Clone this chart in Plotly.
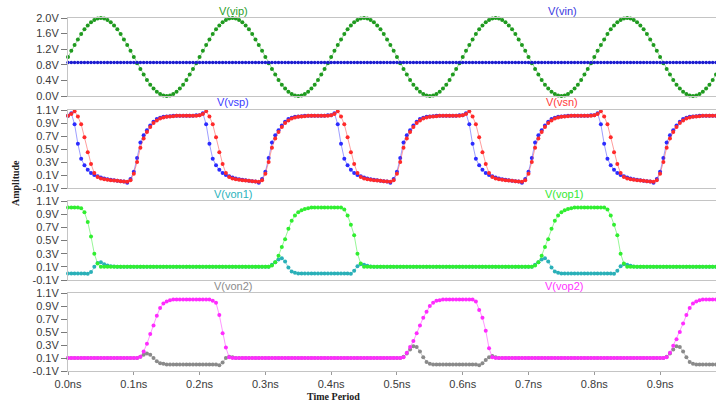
import plotly.graph_objects as go

# ---------------- data ----------------
N = 198
t = [round(i * 0.005, 3) for i in range(N)]  # time in ns (sampling grid)

x_tickvals = [0.0, 0.1, 0.2, 0.3, 0.4, 0.5, 0.6, 0.7, 0.8, 0.9]
x_ticktext = ["0.0ns", "0.1ns", "0.2ns", "0.3ns", "0.4ns", "0.5ns", "0.6ns", "0.7ns", "0.8ns", "0.9ns"]
y1_tickvals = [0.0, 0.4, 0.8, 1.2, 1.6, 2.0]
y1_ticktext = ["0.0V", "0.4V", "0.8V", "1.2V", "1.6V", "2.0V"]
y_tickvals = [-0.1, 0.1, 0.3, 0.5, 0.7, 0.9, 1.1]
y_ticktext = ["-0.1V", "0.1V", "0.3V", "0.5V", "0.7V", "0.9V", "1.1V"]

vip = [
    1.00, 1.16, 1.31, 1.45, 1.59, 1.71, 1.81, 1.89, 1.95, 1.99,
    2.00, 1.99, 1.95, 1.89, 1.81, 1.71, 1.59, 1.45, 1.31, 1.16,
    1.00, 0.84, 0.69, 0.55, 0.41, 0.29, 0.19, 0.11, 0.05, 0.01,
    0.00, 0.01, 0.05, 0.11, 0.19, 0.29, 0.41, 0.55, 0.69, 0.84,
    1.00, 1.16, 1.31, 1.45, 1.59, 1.71, 1.81, 1.89, 1.95, 1.99,
    2.00, 1.99, 1.95, 1.89, 1.81, 1.71, 1.59, 1.45, 1.31, 1.16,
    1.00, 0.84, 0.69, 0.55, 0.41, 0.29, 0.19, 0.11, 0.05, 0.01,
    0.00, 0.01, 0.05, 0.11, 0.19, 0.29, 0.41, 0.55, 0.69, 0.84,
    1.00, 1.16, 1.31, 1.45, 1.59, 1.71, 1.81, 1.89, 1.95, 1.99,
    2.00, 1.99, 1.95, 1.89, 1.81, 1.71, 1.59, 1.45, 1.31, 1.16,
    1.00, 0.84, 0.69, 0.55, 0.41, 0.29, 0.19, 0.11, 0.05, 0.01,
    0.00, 0.01, 0.05, 0.11, 0.19, 0.29, 0.41, 0.55, 0.69, 0.84,
    1.00, 1.16, 1.31, 1.45, 1.59, 1.71, 1.81, 1.89, 1.95, 1.99,
    2.00, 1.99, 1.95, 1.89, 1.81, 1.71, 1.59, 1.45, 1.31, 1.16,
    1.00, 0.84, 0.69, 0.55, 0.41, 0.29, 0.19, 0.11, 0.05, 0.01,
    0.00, 0.01, 0.05, 0.11, 0.19, 0.29, 0.41, 0.55, 0.69, 0.84,
    1.00, 1.16, 1.31, 1.45, 1.59, 1.71, 1.81, 1.89, 1.95, 1.99,
    2.00, 1.99, 1.95, 1.89, 1.81, 1.71, 1.59, 1.45, 1.31, 1.16,
    1.00, 0.84, 0.69, 0.55, 0.41, 0.29, 0.19, 0.11, 0.05, 0.01,
    0.00, 0.01, 0.05, 0.11, 0.19, 0.29, 0.41, 0.55,
]
vin = [0.86] * N

vsp = [
    1.01, 1.05, 0.88, 0.58, 0.35, 0.25, 0.18, 0.13, 0.10, 0.08,
    0.06, 0.045, 0.035, 0.025, 0.02, 0.01, 0.005, 0.0, -0.02, 0.04,
    0.15, 0.36, 0.60, 0.71, 0.79, 0.86, 0.92, 0.96, 0.98, 0.995,
    1.0, 1.005, 1.01, 1.01, 1.01, 1.01, 1.01, 1.01, 1.01, 1.02,
    1.02, 1.05, 0.88, 0.58, 0.35, 0.25, 0.18, 0.13, 0.10, 0.08,
    0.06, 0.045, 0.035, 0.025, 0.02, 0.01, 0.005, 0.0, -0.02, 0.04,
    0.15, 0.36, 0.60, 0.71, 0.79, 0.86, 0.92, 0.96, 0.98, 0.995,
    1.0, 1.005, 1.01, 1.01, 1.01, 1.01, 1.01, 1.01, 1.01, 1.02,
    1.02, 1.05, 0.88, 0.58, 0.35, 0.25, 0.18, 0.13, 0.10, 0.08,
    0.06, 0.045, 0.035, 0.025, 0.02, 0.01, 0.005, 0.0, -0.02, 0.04,
    0.15, 0.36, 0.60, 0.71, 0.79, 0.86, 0.92, 0.96, 0.98, 0.995,
    1.0, 1.005, 1.01, 1.01, 1.01, 1.01, 1.01, 1.01, 1.01, 1.02,
    1.02, 1.05, 0.88, 0.58, 0.35, 0.25, 0.18, 0.13, 0.10, 0.08,
    0.06, 0.045, 0.035, 0.025, 0.02, 0.01, 0.005, 0.0, -0.02, 0.04,
    0.15, 0.36, 0.60, 0.71, 0.79, 0.86, 0.92, 0.96, 0.98, 0.995,
    1.0, 1.005, 1.01, 1.01, 1.01, 1.01, 1.01, 1.01, 1.01, 1.02,
    1.02, 1.05, 0.88, 0.58, 0.35, 0.25, 0.18, 0.13, 0.10, 0.08,
    0.06, 0.045, 0.035, 0.025, 0.02, 0.01, 0.005, 0.0, -0.02, 0.04,
    0.15, 0.36, 0.60, 0.71, 0.79, 0.86, 0.92, 0.96, 0.98, 0.995,
    1.0, 1.005, 1.01, 1.01, 1.01, 1.01, 1.01, 1.01,
]
vsn = [
    1.01, 1.04, 1.08, 1.00, 0.88, 0.68, 0.45, 0.27, 0.13, 0.07,
    0.045, 0.035, 0.025, 0.02, 0.015, 0.01, 0.005, 0.0, -0.005, 0.02,
    0.12, 0.30, 0.52, 0.66, 0.76, 0.84, 0.90, 0.94, 0.97, 0.985,
    0.995, 1.0, 1.005, 1.01, 1.01, 1.01, 1.01, 1.01, 1.01, 1.01,
    1.02, 1.04, 1.08, 1.00, 0.88, 0.68, 0.45, 0.27, 0.13, 0.07,
    0.045, 0.035, 0.025, 0.02, 0.015, 0.01, 0.005, 0.0, -0.005, 0.02,
    0.12, 0.30, 0.52, 0.66, 0.76, 0.84, 0.90, 0.94, 0.97, 0.985,
    0.995, 1.0, 1.005, 1.01, 1.01, 1.01, 1.01, 1.01, 1.01, 1.01,
    1.02, 1.04, 1.08, 1.00, 0.88, 0.68, 0.45, 0.27, 0.13, 0.07,
    0.045, 0.035, 0.025, 0.02, 0.015, 0.01, 0.005, 0.0, -0.005, 0.02,
    0.12, 0.30, 0.52, 0.66, 0.76, 0.84, 0.90, 0.94, 0.97, 0.985,
    0.995, 1.0, 1.005, 1.01, 1.01, 1.01, 1.01, 1.01, 1.01, 1.01,
    1.02, 1.04, 1.08, 1.00, 0.88, 0.68, 0.45, 0.27, 0.13, 0.07,
    0.045, 0.035, 0.025, 0.02, 0.015, 0.01, 0.005, 0.0, -0.005, 0.02,
    0.12, 0.30, 0.52, 0.66, 0.76, 0.84, 0.90, 0.94, 0.97, 0.985,
    0.995, 1.0, 1.005, 1.01, 1.01, 1.01, 1.01, 1.01, 1.01, 1.01,
    1.02, 1.04, 1.08, 1.00, 0.88, 0.68, 0.45, 0.27, 0.13, 0.07,
    0.045, 0.035, 0.025, 0.02, 0.015, 0.01, 0.005, 0.0, -0.005, 0.02,
    0.12, 0.30, 0.52, 0.66, 0.76, 0.84, 0.90, 0.94, 0.97, 0.985,
    0.995, 1.0, 1.005, 1.01, 1.01, 1.01, 1.01, 1.01,
]

vop1 = (
    [1.0, 1.0, 1.0, 1.0, 0.99, 0.93, 0.78, 0.56, 0.30, 0.15]      # 0.00
    + [0.10] * 50                                                  # 0.05-0.295
    + [0.10, 0.10, 0.12, 0.17, 0.27, 0.40, 0.52, 0.68, 0.80, 0.88]  # 0.30
    + [0.93, 0.96, 0.98, 0.99, 1.0, 1.0, 1.0, 1.0, 1.0, 1.0]      # 0.35
    + [1.0, 1.0, 1.0, 1.0, 0.97, 0.88, 0.74, 0.58, 0.30, 0.15]    # 0.40
    + [0.10] * 50                                                  # 0.45-0.695
    + [0.10, 0.10, 0.12, 0.17, 0.27, 0.40, 0.52, 0.68, 0.80, 0.88]  # 0.70
    + [0.93, 0.96, 0.98, 0.99, 1.0, 1.0, 1.0, 1.0, 1.0, 1.0]      # 0.75
    + [1.0, 1.0, 1.0, 1.0, 0.97, 0.88, 0.74, 0.58, 0.30, 0.15]    # 0.80
    + [0.10] * 28                                                  # 0.85-0.985
)
von1 = (
    [0.0, 0.0, 0.0, 0.0, 0.0, 0.0, -0.005, 0.02, 0.10, 0.16]      # 0.00
    + [0.17, 0.14, 0.12, 0.11, 0.105, 0.10, 0.10, 0.10, 0.10, 0.10]  # 0.05
    + [0.10] * 40                                                  # 0.10-0.295
    + [0.10, 0.10, 0.13, 0.17, 0.21, 0.23, 0.18, 0.09, 0.03, 0.01]  # 0.30
    + [0.0] * 10                                                   # 0.35
    + [0.0, 0.0, 0.0, 0.0, 0.0, 0.0, -0.005, 0.04, 0.11, 0.14]    # 0.40
    + [0.13, 0.115, 0.105, 0.10, 0.10, 0.10, 0.10, 0.10, 0.10, 0.10]  # 0.45
    + [0.10] * 40                                                  # 0.50-0.695
    + [0.10, 0.10, 0.13, 0.17, 0.21, 0.23, 0.18, 0.09, 0.03, 0.01]  # 0.70
    + [0.0] * 10                                                   # 0.75
    + [0.0, 0.0, 0.0, 0.0, 0.0, 0.0, -0.005, 0.04, 0.11, 0.14]    # 0.80
    + [0.13, 0.115, 0.105, 0.10, 0.10, 0.10, 0.10, 0.10, 0.10, 0.10]  # 0.85
    + [0.10] * 18                                                  # 0.90-0.985
)

vop2 = (
    [0.10] * 20                                                    # 0.00-0.095
    + [0.10, 0.10, 0.12, 0.20, 0.32, 0.47, 0.60, 0.75, 0.87, 0.94]  # 0.10
    + [0.97, 0.99, 1.0, 1.0, 1.0, 1.0, 1.0, 1.0, 1.0, 1.0]        # 0.15
    + [1.0, 1.0, 1.0, 1.0, 0.98, 0.95, 0.76, 0.48, 0.26, 0.11]    # 0.20
    + [0.10] * 50                                                  # 0.25-0.495
    + [0.10, 0.10, 0.11, 0.18, 0.27, 0.36, 0.48, 0.60, 0.72, 0.81]  # 0.50
    + [0.90, 0.95, 0.98, 0.99, 1.0, 1.0, 1.0, 1.0, 1.0, 1.0]      # 0.55
    + [1.0, 1.0, 1.0, 1.0, 0.97, 0.84, 0.72, 0.52, 0.25, 0.11]    # 0.60
    + [0.10] * 50                                                  # 0.65-0.895
    + [0.10, 0.10, 0.11, 0.18, 0.29, 0.39, 0.50, 0.63, 0.76, 0.87]  # 0.90
    + [0.94, 0.97, 0.99, 1.0, 1.0, 1.0, 1.0, 1.0]                  # 0.95-0.985
)
von2 = (
    [0.10] * 20                                                    # 0.00-0.095
    + [0.10, 0.10, 0.12, 0.15, 0.17, 0.15, 0.10, 0.05, 0.02, 0.01]  # 0.10
    + [0.0] * 10                                                   # 0.15
    + [0.0, 0.0, 0.0, 0.0, 0.0, 0.0, -0.01, 0.03, 0.10, 0.12]     # 0.20
    + [0.11, 0.10, 0.10, 0.10, 0.10, 0.10, 0.10, 0.10, 0.10, 0.10]  # 0.25
    + [0.10] * 40                                                  # 0.30-0.495
    + [0.10, 0.10, 0.12, 0.17, 0.23, 0.28, 0.27, 0.20, 0.11, 0.04]  # 0.50
    + [0.01, 0.0, 0.0, 0.0, 0.0, 0.0, 0.0, 0.0, 0.0, 0.0]         # 0.55
    + [0.0, 0.0, 0.0, 0.0, 0.0, -0.01, 0.02, 0.07, 0.11, 0.13]    # 0.60
    + [0.11, 0.10, 0.10, 0.10, 0.10, 0.10, 0.10, 0.10, 0.10, 0.10]  # 0.65
    + [0.10] * 40                                                  # 0.70-0.895
    + [0.10, 0.10, 0.12, 0.17, 0.23, 0.28, 0.27, 0.20, 0.11, 0.04]  # 0.90
    + [0.01, 0.0, 0.0, 0.0, 0.0, 0.0, 0.0, 0.0]                    # 0.95-0.985
)

for name, arr in [("vip", vip), ("vin", vin), ("vsp", vsp), ("vsn", vsn),
                  ("vop1", vop1), ("von1", von1), ("vop2", vop2), ("von2", von2)]:
    assert len(arr) == N, (name, len(arr))

# ---------------- styling ----------------
W, H = 716, 402
FONT = "Liberation Sans, Arial, sans-serif"
FRAME = "#c4c4c4"
TICKFONT = dict(family=FONT, size=11, color="#3a3a3a")

series = [
    # (name, values, axis, marker colour, line colour, marker size)
    ("V(vip)", vip, 1, "#1f9a1f", "rgba(40,160,40,0.45)", 4),
    ("V(vin)", vin, 1, "#1c1cd0", "rgba(40,40,220,0.5)", 3.5),
    ("V(vsp)", vsp, 2, "#2b2bff", "rgba(60,60,255,0.5)", 4),
    ("V(vsn)", vsn, 2, "#ff2a2a", "rgba(255,60,60,0.5)", 4),
    ("V(von1)", von1, 3, "#2ab0b8", "rgba(40,176,184,0.5)", 4),
    ("V(vop1)", vop1, 3, "#30ee30", "rgba(48,238,48,0.5)", 4),
    ("V(von2)", von2, 4, "#8a8a8a", "rgba(138,138,138,0.5)", 4),
    ("V(vop2)", vop2, 4, "#ff2cff", "rgba(255,44,255,0.5)", 4),
]

fig = go.Figure()
for name, vals, ax, mc, lc, ms in series:
    fig.add_trace(go.Scatter(
        x=t, y=vals, name=name, mode="lines+markers",
        xaxis="x" if ax == 1 else f"x{ax}",
        yaxis="y" if ax == 1 else f"y{ax}",
        line=dict(color=lc, width=1),
        marker=dict(color=mc, size=ms),
        cliponaxis=False, showlegend=False,
    ))

def py(px):
    return 1 - px / H

x_dom = [68 / W, 1.0]
panels = [  # (top px, bottom px, range, tickvals, ticktext)
    (18, 96, [0.0, 2.0], y1_tickvals, y1_ticktext),
    (110, 188, [-0.1, 1.1], y_tickvals, y_ticktext),
    (201, 280, [-0.1, 1.1], y_tickvals, y_ticktext),
    (293, 371, [-0.1, 1.1], y_tickvals, y_ticktext),
]

layout = dict(
    width=W, height=H, margin=dict(l=0, r=0, t=0, b=0, autoexpand=False),
    paper_bgcolor="white", plot_bgcolor="white",
    font=dict(family=FONT, size=11, color="#3a3a3a"),
)
for i, (top, bot, rng, tv, tt) in enumerate(panels, start=1):
    sx = "" if i == 1 else str(i)
    last = i == 4
    layout[f"xaxis{sx}"] = dict(
        domain=x_dom, range=[0, 0.985], anchor=f"y{sx}", automargin=False,
        showline=True, linecolor=FRAME, linewidth=1, mirror=True,
        showgrid=False, zeroline=False,
        tickvals=x_tickvals, ticktext=x_ticktext,
        showticklabels=last, ticks="outside" if last else "",
        ticklen=3, tickcolor="#9a9a9a", tickfont=TICKFONT,
    )
    layout[f"yaxis{sx}"] = dict(
        domain=[py(bot), py(top)], range=rng, anchor=f"x{sx}", automargin=False,
        showline=True, linecolor=FRAME, linewidth=1,
        showgrid=False, zeroline=False,
        tickvals=tv, ticktext=tt, ticks="outside", ticklen=6,
        tickcolor="#7a7a7a", tickfont=TICKFONT,
    )
fig.update_layout(**layout)

labels = [
    ("V(vip)", 233, 11, "#2a9e2a"),
    ("V(vin)", 562, 11, "#3838e0"),
    ("V(vsp)", 233, 102, "#3a3aff"),
    ("V(vsn)", 562, 102, "#ff3a3a"),
    ("V(von1)", 233, 194, "#2ab3bd"),
    ("V(vop1)", 564, 194, "#33e833"),
    ("V(von2)", 233, 286, "#8c8c8c"),
    ("V(vop2)", 564, 286, "#ff33ff"),
]
for txt, x, y, c in labels:
    fig.add_annotation(x=x / W, y=py(y), xref="paper", yref="paper",
                       text=txt, showarrow=False, xanchor="center", yanchor="middle",
                       font=dict(family=FONT, size=11, color=c))

fig.add_annotation(x=15 / W, y=py(183), xref="paper", yref="paper",
                   text="<b>Amplitude</b>", textangle=-90, showarrow=False,
                   xanchor="center", yanchor="middle",
                   font=dict(family="Liberation Serif, Times New Roman, serif", size=10, color="#222"))
fig.add_annotation(x=333 / W, y=py(396), xref="paper", yref="paper",
                   text="<b>Time Period</b>", showarrow=False,
                   xanchor="center", yanchor="middle",
                   font=dict(family="Liberation Serif, Times New Roman, serif", size=10, color="#222"))

fig.write_html("out.html")
